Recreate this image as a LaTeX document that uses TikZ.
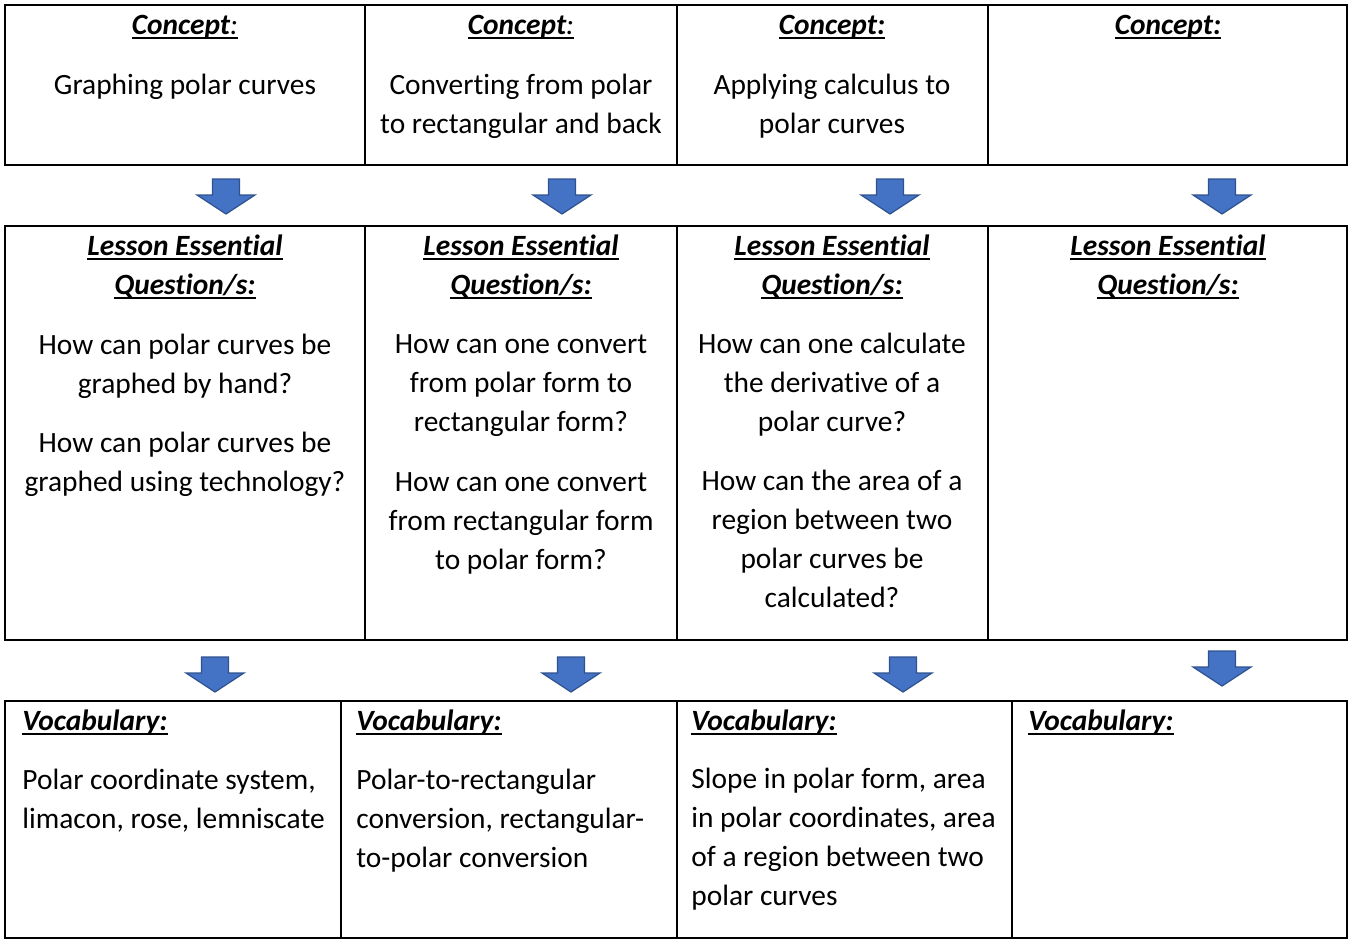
\documentclass[tikz,border=0pt]{standalone}
\usepackage{fontspec}
\setmainfont{Carlito}[Ligatures=NoCommon]
\usetikzlibrary{positioning}
\definecolor{arrowBlue}{RGB}{68,114,196}
\definecolor{arrowEdge}{RGB}{47,82,143}
\newsavebox{\hdbox}
\newcommand{\hdline}[1]{\sbox{\hdbox}{#1}\rlap{\rule[-2.3pt]{\wd\hdbox}{0.9pt}}\usebox{\hdbox}}

\begin{document}
\begin{tikzpicture}[x=0.5pt, y=-0.5pt,
    grid/.style={line width=1pt},
    hd/.style={anchor=base, inner sep=0pt, font=\fontsize{14.7}{19.5}\selectfont\bfseries\itshape},
    body/.style={anchor=base, inner sep=0pt, align=center, font=\fontsize{14.7}{19.5}\selectfont},
    vocab/.style={anchor=base west, inner sep=0pt, align=left, font=\fontsize{14.7}{19.5}\selectfont},
    blockdown/.pic={\draw[fill=arrowBlue, draw=arrowEdge, line width=0.6pt]
        (-13.5,0) -- (13.5,0) -- (13.5,16) -- (29,16) -- (0,35) -- (-29,16) -- (-13.5,16) -- cycle;}]
  \useasboundingbox (0,0) rectangle (1348,939);

  % three rows of cells
  \draw[grid] (5,5) rectangle (1347,165);
  \draw[grid] (5,226) rectangle (1347,640);
  \draw[grid] (5,701) rectangle (1347,938);
  \foreach \x in {365,677,988} {
    \draw[grid] (\x,5) -- (\x,165);
    \draw[grid] (\x,226) -- (\x,640);
  }
  \foreach \x in {341,677,1012}
    \draw[grid] (\x,701) -- (\x,938);

  % block arrows between the rows
  \foreach \x/\y in {226/179,562/179,890/179,1222/179,215/657,571/657,903/657,1222/651}
    \pic at (\x,\y) {blockdown};

  % concepts (multi-line nodes sit on the baseline of their last line)
  \node[hd] (con1) at (185,34) {\hdline{Concept\mdseries:}};
  \node[hd] (con2) at (521,34) {\hdline{Concept\mdseries:}};
  \node[hd] (con3) at (832,34) {\hdline{Concept:}};
  \node[hd] (con4) at (1168,34) {\hdline{Concept:}};
  \node[body] (cont1) at (185,94) {Graphing polar curves};
  \node[body] (cont2) at (521,133) {Converting from polar\\to rectangular and back};
  \node[body] (cont3) at (832,133) {Applying calculus to\\polar curves};

  % essential questions
  \foreach \x [count=\i] in {185,521,832,1168} {
    \node[hd] (leq\i) at (\x,255) {\hdline{Lesson Essential}};
    \node[hd] (qs\i) at (\x,294) {\hdline{Question/s:}};
  }
  \node[body] (q1a) at (185,393) {How can polar curves be\\graphed by hand?};
  \node[body] (q1b) at (185,491) {How can polar curves be\\graphed using technology?};
  \node[body] (q2a) at (521,431) {How can one convert\\from polar form to\\rectangular form?};
  \node[body] (q2b) at (521,569) {How can one convert\\from rectangular form\\to polar form?};
  \node[body] (q3a) at (832,431) {How can one calculate\\the derivative of a\\polar curve?};
  \node[body] (q3b) at (832,607) {How can the area of a\\region between two\\polar curves be\\calculated?};

  % vocabulary
  \foreach \x [count=\i] in {22,356,691,1028}
    \node[hd, anchor=base west] (voc\i) at (\x,730) {\hdline{Vocabulary:}};
  \node[vocab] (vt1) at (22,828) {Polar coordinate system,\\limacon, rose, lemniscate};
  \node[vocab] (vt2) at (356,867) {Polar-to-rectangular\\conversion, rectangular-\\to-polar conversion};
  \node[vocab] (vt3) at (691,905) {Slope in polar form, area\\in polar coordinates, area\\of a region between two\\polar curves};
\end{tikzpicture}
\end{document}
